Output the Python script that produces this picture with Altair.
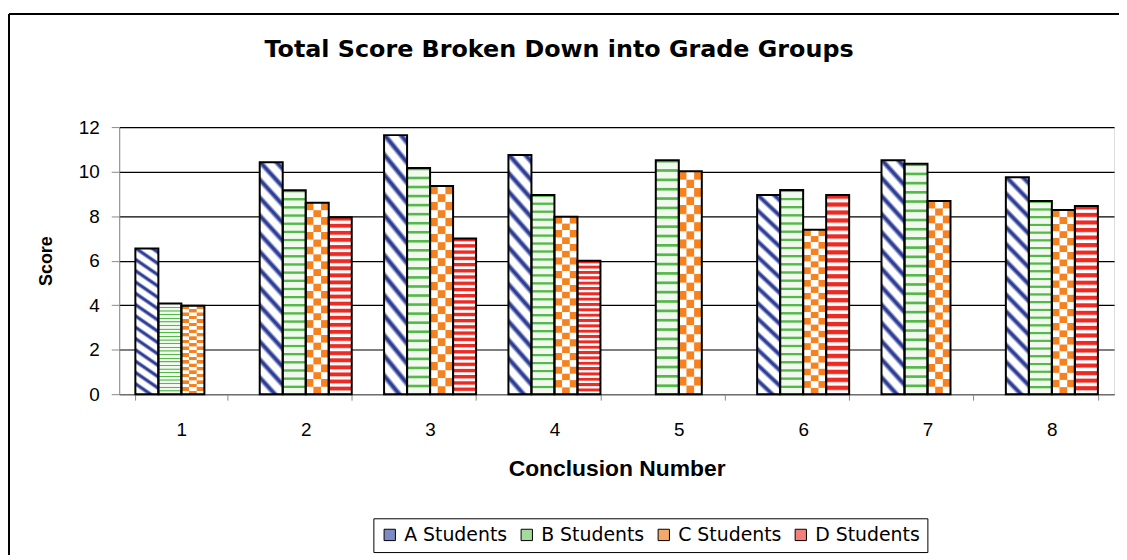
import altair as alt
import pandas as pd

# ---- data ----
groups = ["1", "2", "3", "4", "5", "6", "7", "8"]
series_names = ["A Students", "B Students", "C Students", "D Students"]
a_scores = [6.55, 10.42, 11.64, 10.75, None, 8.95, 10.51, 9.75]
b_scores = [4.08, 9.16, 10.16, 8.95, 10.51, 9.17, 10.35, 8.68]
c_scores = [3.97, 8.60, 9.35, 7.97, 10.02, 7.39, 8.68, 8.28]
d_scores = [None, 7.95, 7.00, 6.00, None, 8.95, None, 8.46]
y_ticks = [0, 2, 4, 6, 8, 10, 12]

rows = []
for s, vals in zip(series_names, [a_scores, b_scores, c_scores, d_scores]):
    for g, v in zip(groups, vals):
        if v is not None:
            rows.append({"group": g, "series": s, "score": v})
df = pd.DataFrame(rows)

# ---- styles ----
FONT = "DejaVu Sans"
BLUE, GREEN, ORANGE, RED, WHITE = "#2E3E96", "#55B84A", "#F5821F", "#EE2A24", "#FFFFFF"
legend_colors = ["#7E8AC4", "#A6D99C", "#F6A868", "#F28078"]


def periodic(n, pattern):
    stops = []
    for k in range(n):
        for frac, col in pattern:
            stops.append({"offset": round((k + frac) / n, 5), "color": col})
    return stops


def grad(stops, x1=0, y1=0, x2=0, y2=1):
    return {"gradient": "linear", "x1": x1, "y1": y1, "x2": x2, "y2": y2, "stops": stops}


grad_a = grad(periodic(15, [(0, BLUE), (0.14, BLUE), (0.36, WHITE), (0.8, WHITE), (1.0, BLUE)]),
              x1=0.125, y1=-0.15, x2=0, y2=1)
grad_b = grad(periodic(25, [(0, GREEN), (0.18, GREEN), (0.3, "#F2FAF0"), (0.9, "#F2FAF0"), (1.0, GREEN)]))
grad_c = grad(periodic(13, [(0, ORANGE), (0.46, ORANGE), (0.54, WHITE), (0.96, WHITE), (1.0, ORANGE)]))
grad_c2 = grad(periodic(13, [(0, WHITE), (0.46, WHITE), (0.54, ORANGE), (0.96, ORANGE), (1.0, WHITE)]))
grad_d = grad(periodic(25, [(0, RED), (0.38, RED), (0.5, "#F7B4AC"), (0.6, WHITE), (0.86, WHITE), (1.0, RED)]))

x_enc = alt.X(
    "group:N",
    title="Conclusion Number",
    scale=alt.Scale(paddingInner=0.26, paddingOuter=0.13),
    axis=alt.Axis(
        labelAngle=0, tickBand="extent", tickSize=6, labelPadding=21,
        labelFontSize=19, titleFontSize=23, titleFontWeight="bold",
        titleY=75, titleBaseline="middle", grid=False,
    ),
)
y_enc = alt.Y(
    "score:Q",
    title="Score",
    scale=alt.Scale(domain=[0, 12], nice=False),
    axis=alt.Axis(
        values=y_ticks, tickSize=8, labelPadding=12, labelFontSize=19,
        titleFontSize=18, titleFontWeight="bold", titleX=-73, titleBaseline="middle",
        grid=True, gridColor="black", gridWidth=1.2,
    ),
)
xo_enc = alt.XOffset("series:N", scale=alt.Scale(domain=series_names, paddingInner=0, paddingOuter=0))

base = alt.Chart(df)

legend_layer = base.mark_bar().encode(
    x=x_enc, y=y_enc, xOffset=xo_enc,
    color=alt.Color(
        "series:N", title=None,
        scale=alt.Scale(domain=series_names, range=legend_colors),
        legend=alt.Legend(
            orient="none", legendX=256, legendY=394, direction="horizontal", columns=4,
            strokeColor="black", fillColor="white", padding=7,
            symbolType="square", symbolSize=130, symbolStrokeColor="black", symbolStrokeWidth=1,
            labelFont=FONT, labelFontSize=19, labelColor="black", columnPadding=10, labelOffset=5,
        ),
    ),
)

pattern_layer = base.mark_bar().encode(
    x=x_enc, y=y_enc, xOffset=xo_enc,
    fill=alt.when(alt.datum.series == "A Students").then(alt.value(grad_a))
    .when(alt.datum.series == "B Students").then(alt.value(grad_b))
    .when(alt.datum.series == "C Students").then(alt.value(grad_c))
    .otherwise(alt.value(grad_d)),
)

# middle third of each C bar with opposite-phase stripes -> checkerboard look
# (bar is 1/12 of the group band, centred in the group, then nudged into the C slot)
checker_layer = base.transform_filter(alt.datum.series == "C Students").mark_bar(
    width=alt.RelativeBandSize(1 / 12), xOffset=11.575
).encode(
    x=x_enc, y=y_enc, fill=alt.value(grad_c2),
)

outline_layer = base.mark_bar(fillOpacity=0, stroke="black", strokeWidth=2).encode(
    x=x_enc, y=y_enc, xOffset=xo_enc,
)

frame_data = alt.Data(values=[{"k": 0}])
frame_top = alt.Chart(frame_data).mark_rule(color="black", strokeWidth=2).encode(
    x=alt.value(-111), x2=alt.value(1012), y=alt.value(-114)
)
frame_left = alt.Chart(frame_data).mark_rule(color="black", strokeWidth=2).encode(
    x=alt.value(-111), y=alt.value(-114), y2=alt.value(440)
)

chart = alt.layer(
    legend_layer, pattern_layer, checker_layer, outline_layer, frame_top, frame_left
).properties(
    width=1002,
    height=269,
    autosize=alt.AutoSizeParams(type="none"),
    padding={"left": 112, "top": 118, "right": 5, "bottom": 160},
    title=alt.TitleParams(
        "Total Score Broken Down into Grade Groups",
        font=FONT, fontSize=24, fontWeight="bold", color="black",
        anchor="middle", dx=-58, offset=-49,
    ),
).configure_view(
    fill="#C0C0C0", stroke="#8C8C8C", strokeWidth=1
).configure_axis(
    labelFont=FONT, titleFont=FONT, labelColor="black", titleColor="black",
    domainColor="black", tickColor="black", domainWidth=1, tickWidth=1,
).configure(background="white")

chart.save("out.html", embed_options={"renderer": "svg", "actions": False})
